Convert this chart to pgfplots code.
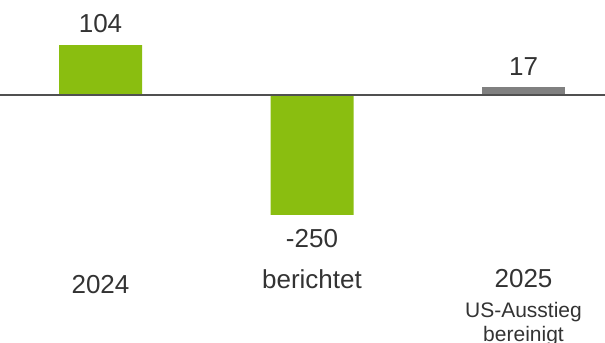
\documentclass[border=0pt]{standalone}
\usepackage{pgfplots}
\pgfplotsset{compat=1.18}
\usepackage{fontspec}
\setmainfont{Liberation Sans}
\definecolor{barGreen}{RGB}{138,190,16}
\definecolor{barGrey}{RGB}{128,128,128}
\definecolor{lineGrey}{RGB}{80,80,80}
\definecolor{txt}{RGB}{51,51,51}
\begin{document}
\begin{tikzpicture}
\begin{axis}[
  name=ax,
  at={(0,0)}, anchor=south west,
  scale only axis, width=605bp, height=343bp,
  xmin=0, xmax=605, ymin=-516.7, ymax=197.9,
  hide axis, clip=false,
  ybar, bar width=83bp,
]
\addplot[fill=barGreen, draw=none, bar shift=0pt] coordinates {(100.5,104) (312,-250)};
\addplot[fill=barGrey, draw=none, bar shift=0pt] coordinates {(523.5,17)};
\draw[lineGrey, line width=1.5pt] (axis cs:0,0) -- (axis cs:605,0);
\begin{scope}[every node/.style={text=txt, anchor=base, inner sep=0pt, font=\fontsize{26bp}{30bp}\selectfont}]
\node at (axis cs:100.5,129.2) {104};
\node at (axis cs:523.5,39.6) {17};
\node at (axis cs:312,-318.75) {-250};
\node at (axis cs:100.5,-414.6) {2024};
\node at (axis cs:312,-404.2) {berichtet};
\node at (axis cs:523.5,-402) {2025};
\node[font=\fontsize{21bp}{24bp}\selectfont] at (axis cs:523.5,-464.6) {US-Ausstieg};
\node[font=\fontsize{21bp}{24bp}\selectfont] at (axis cs:523.5,-514.6) {bereinigt};
\end{scope}
\end{axis}
\pgfresetboundingbox
\path (ax.south west) rectangle (ax.north east);
\end{tikzpicture}
\end{document}
